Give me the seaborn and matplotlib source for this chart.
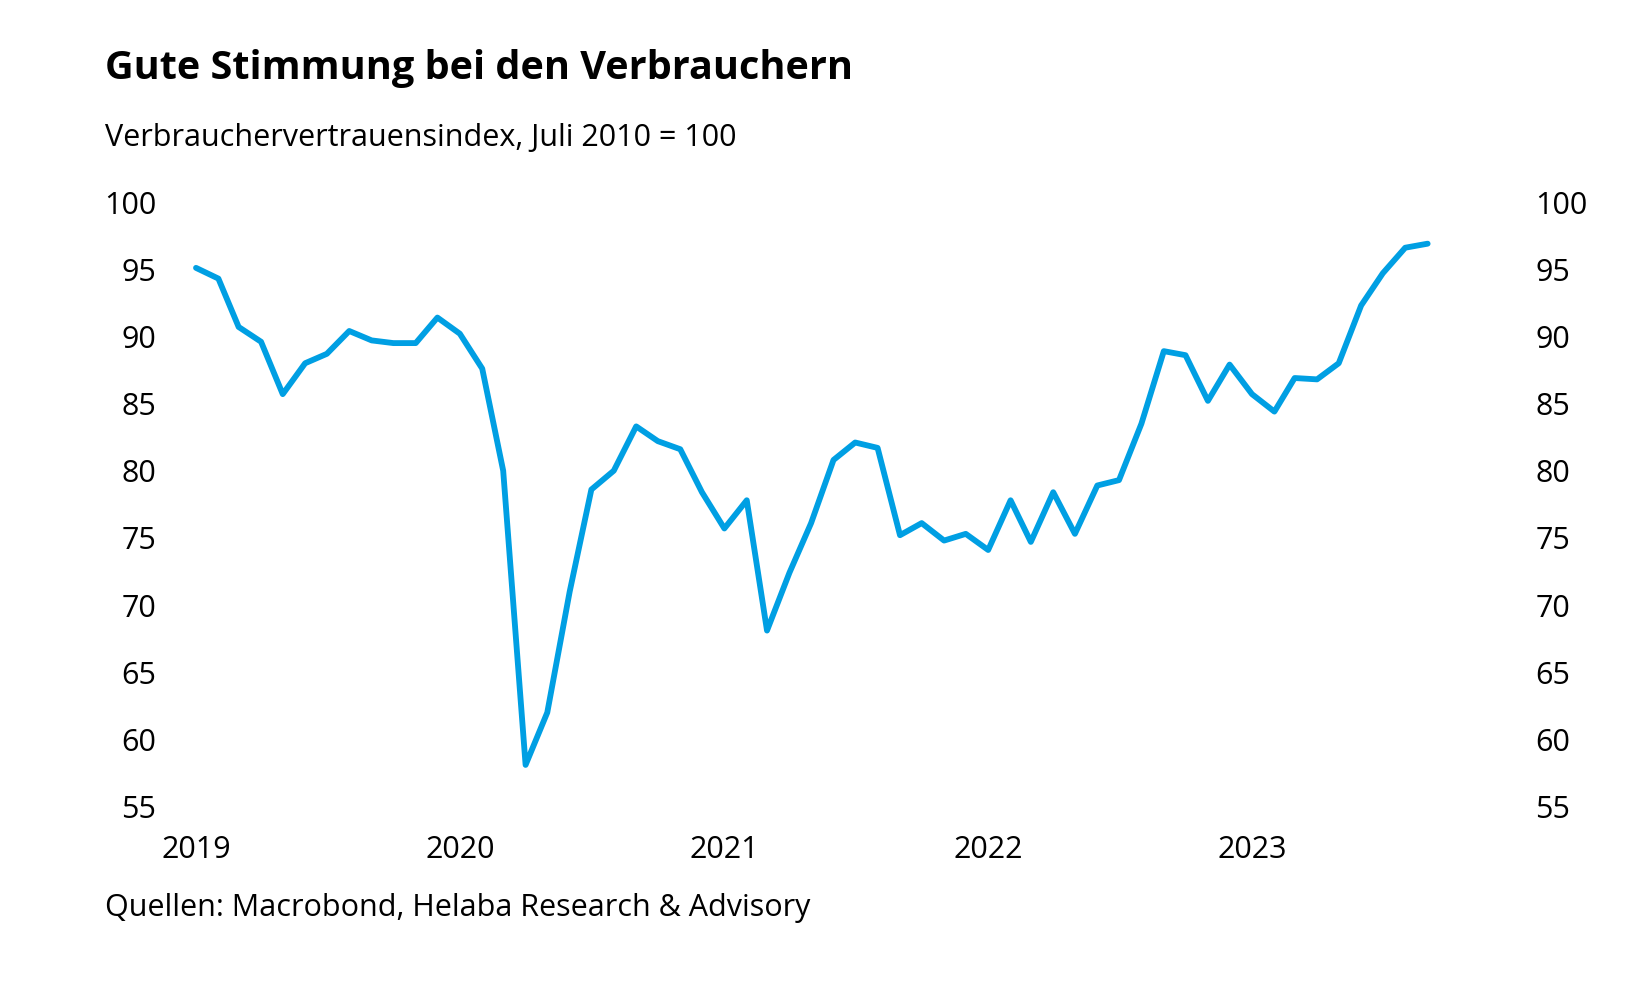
import matplotlib
matplotlib.use("Agg")
import matplotlib.pyplot as plt
import matplotlib.dates as mdates
import numpy as np
import pandas as pd
import seaborn as sns

# ---------------------------------------------------------------- data
months = pd.date_range("2019-01-01", "2023-09-01", freq="MS")
index_values = [
    95.1, 94.3, 90.7, 89.6, 85.7, 88.0, 88.7, 90.4, 89.7, 89.5, 89.5, 91.4,   # 2019
    90.2, 87.6, 80.0, 58.1, 62.0, 71.0, 78.6, 80.0, 83.3, 82.2, 81.6, 78.4,   # 2020
    75.7, 77.8, 68.1, 72.4, 76.1, 80.8, 82.1, 81.7, 75.2, 76.1, 74.8, 75.3,   # 2021
    74.1, 77.8, 74.7, 78.4, 75.3, 78.9, 79.3, 83.5, 88.9, 88.6, 85.2, 87.9,   # 2022
    85.7, 84.4, 86.9, 86.8, 88.0, 92.3, 94.7, 96.6, 96.9,                     # 2023
]
year_ticks = ["2019", "2020", "2021", "2022", "2023"]
y_ticks = [55, 60, 65, 70, 75, 80, 85, 90, 95, 100]

title = "Gute Stimmung bei den Verbrauchern"
subtitle = "Verbrauchervertrauensindex, Juli 2010 = 100"
source = "Quellen: Macrobond, Helaba Research & Advisory"

df = pd.DataFrame({"date": months, "value": index_values})

# ---------------------------------------------------------------- style
sns.set_theme(style="white")
plt.rcParams["font.family"] = ["Open Sans", "DejaVu Sans"]
plt.rcParams["text.color"] = "black"
BLUE = "#009FE3"
FS = 22

fig = plt.figure(figsize=(16.5, 10), dpi=100)
ax = fig.add_axes([170 / 1650, 0.18, (1520 - 170) / 1650, 0.6314])

sns.lineplot(data=df, x="date", y="value", ax=ax, color=BLUE, lw=4.2,
             solid_capstyle="round", solid_joinstyle="round")

# x mapping: 2019-01-01 -> 196 px, 2023-01-01 -> 1252 px
x0 = mdates.date2num(pd.Timestamp("2019-01-01"))
x1 = mdates.date2num(pd.Timestamp("2023-01-01"))
ppd = (1252 - 196) / (x1 - x0)
ax.set_xlim(x0 - (196 - 170) / ppd, x0 + (1520 - 196) / ppd)
ax.set_ylim(54, 101)

ax.set_xticks([pd.Timestamp(f"{y}-01-01") for y in year_ticks])
ax.set_xticklabels(year_ticks)
ax.set_yticks(y_ticks)
ax.set_yticklabels([str(v) for v in y_ticks])
ax.tick_params(axis="both", length=0, labelsize=FS, colors="black")
ax.tick_params(axis="y", pad=10)
ax.tick_params(axis="x", pad=11)
ax.set_xlabel(""); ax.set_ylabel("")
sns.despine(ax=ax, left=True, bottom=True)

ax2 = ax.twinx()
ax2.set_ylim(ax.get_ylim())
ax2.set_yticks(y_ticks)
ax2.set_yticklabels([str(v) for v in y_ticks])
ax2.tick_params(axis="y", length=0, labelsize=FS, pad=11, colors="black")
ax2.grid(False); ax.grid(False)
for s in ax2.spines.values():
    s.set_visible(False)

fig.text(105 / 1650, 1 - 69 / 1000, title, fontsize=28.5, fontweight="bold",
         va="center", ha="left", color="black")
fig.text(105 / 1650, 1 - 138 / 1000, subtitle, fontsize=FS, va="center", ha="left",
         color="black")
fig.text(105 / 1650, 1 - 908 / 1000, source, fontsize=FS, va="center", ha="left",
         color="black")

fig.savefig("out.png", dpi=100)
